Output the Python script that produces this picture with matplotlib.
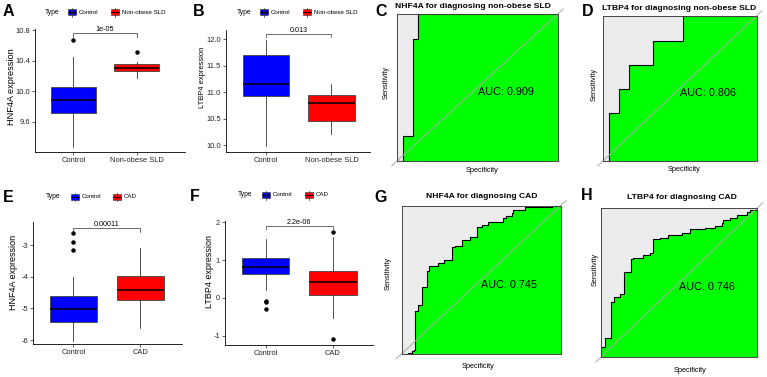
import matplotlib
matplotlib.use("Agg")
import matplotlib.pyplot as plt
from matplotlib import font_manager
from matplotlib.patches import Rectangle
from matplotlib.lines import Line2D

W, H = 767, 377

# --- box plot data ---
a_groups = ["Control", "Non-obese SLD"]
a_q1 = [9.71, 10.26]
a_med = [9.89, 10.30]
a_q3 = [10.05, 10.36]
a_lo = [9.27, 10.18]
a_hi = [10.45, 10.38]
a_out = [[10.67], [10.52]]
a_p = "1e-05"

b_groups = ["Control", "Non-obese SLD"]
b_q1 = [10.92, 10.46]
b_med = [11.16, 10.79]
b_q3 = [11.69, 10.94]
b_lo = [9.99, 10.20]
b_hi = [11.98, 11.15]
b_out = [[], []]
b_p = "0.013"

e_groups = ["Control", "CAD"]
e_q1 = [-5.43, -4.74]
e_med = [-5.03, -4.43]
e_q3 = [-4.60, -3.98]
e_lo = [-6.03, -5.62]
e_hi = [-4.00, -3.09]
e_out = [[-2.62, -2.88, -3.16], []]
e_p = "0.00011"

f_groups = ["Control", "CAD"]
f_q1 = [0.62, 0.07]
f_med = [0.81, 0.43]
f_q3 = [1.05, 0.70]
f_lo = [0.20, -0.52]
f_hi = [1.57, 1.60]
f_out = [[-0.07, -0.11, -0.29], [1.75, -1.10]]
f_p = "2.2e-06"

# --- ROC curves: 1 - specificity / sensitivity at each step ---
c_fpr = [0.0, 0.033, 0.100, 0.129, 1.0]
c_tpr = [0.0, 0.168, 0.827, 1.0, 1.0]
c_auc = "AUC: 0.909"

d_fpr = [0.0, 0.039, 0.104, 0.170, 0.326, 0.522, 1.0]
d_tpr = [0.0, 0.331, 0.497, 0.662, 0.828, 1.0, 1.0]
d_auc = "AUC: 0.806"

g_fpr = [0.0, 0.042, 0.063, 0.077, 0.084, 0.104, 0.126, 0.157, 0.174, 0.230,
         0.266, 0.314, 0.335, 0.377, 0.430, 0.475, 0.503, 0.545, 0.639, 0.656,
         0.692, 0.702, 0.775, 0.943, 1.0]
g_tpr = [0.0, 0.008, 0.018, 0.027, 0.286, 0.331, 0.449, 0.557, 0.595, 0.613,
         0.631, 0.719, 0.730, 0.770, 0.786, 0.855, 0.872, 0.888, 0.917, 0.932,
         0.951, 0.969, 0.991, 1.0, 1.0]
g_auc = "AUC: 0.745"

h_fpr = [0.0, 0.0, 0.022, 0.064, 0.081, 0.118, 0.146, 0.188, 0.203, 0.267,
         0.310, 0.331, 0.376, 0.429, 0.515, 0.569, 0.665, 0.729, 0.772, 0.782,
         0.825, 0.868, 0.932, 0.953, 0.996, 1.0]
h_tpr = [0.0, 0.067, 0.128, 0.366, 0.403, 0.420, 0.572, 0.655, 0.666, 0.684,
         0.695, 0.790, 0.796, 0.818, 0.830, 0.859, 0.868, 0.881, 0.897, 0.919,
         0.935, 0.953, 0.971, 0.987, 1.0, 1.0]
h_auc = "AUC: 0.746"

colors = ["#0000FF", "#FF0000"]

plt.rcParams["font.family"] = ["Liberation Sans", "DejaVu Sans"]

try:
    font_manager.findfont("Liberation Sans Narrow", fallback_to_default=False)
    auc_font = dict(family=["Liberation Sans Narrow", "DejaVu Sans"], fontsize=8.8)
except ValueError:
    auc_font = dict(fontsize=7.8)


def fx(x):
    return x / W


def fy(y):
    return 1 - y / H


def px_axes(fig, left, top, right, bottom):
    return fig.add_axes([fx(left), fy(bottom), (right - left) / W, (bottom - top) / H])


def legend(fig, x0, y, second, blue_x, red_x):
    fig.text(fx(x0), fy(y), "Type", fontsize=4.8, ha="left", va="center")
    for px, col, lab in [(blue_x, colors[0], "Control"), (red_x, colors[1], second)]:
        # whisker through the key, then the box and its median
        fig.lines.append(Line2D([fx(px + 4), fx(px + 4)], [fy(y + 4.5), fy(y - 4.5)],
                                transform=fig.transFigure, color="#333333", lw=0.5))
        fig.patches.append(Rectangle((fx(px), fy(y + 3)), 8 / W, 6 / H, transform=fig.transFigure,
                                     facecolor=col, edgecolor="#333333", lw=0.4))
        fig.lines.append(Line2D([fx(px), fx(px + 8)], [fy(y), fy(y)], transform=fig.transFigure,
                                color="black", lw=0.6))
        fig.text(fx(px + 11), fy(y), lab, fontsize=4.4, ha="left", va="center")


def box_panel(fig, box, xlim, ylim, yticks, fmt, groups, q1, med, q3, lo, hi, out,
              pval, br_y, br_d, ylabel, ylab_xy, ylab_size):
    ax = px_axes(fig, *box)
    stats = []
    for i in range(2):
        stats.append(dict(med=med[i], q1=q1[i], q3=q3[i], whislo=lo[i], whishi=hi[i],
                          fliers=out[i]))
    bp = ax.bxp(stats, positions=[1, 2], widths=0.71, patch_artist=True,
                showcaps=False,
                medianprops=dict(color="black", lw=1.1),
                whiskerprops=dict(color="#333333", lw=0.6),
                flierprops=dict(marker="o", markerfacecolor="black", markeredgecolor="black",
                                markersize=2.2))
    for patch, col in zip(bp["boxes"], colors):
        patch.set_facecolor(col)
        patch.set_edgecolor("#444444")
        patch.set_linewidth(0.6)
    ax.set_xlim(*xlim)
    ax.set_ylim(*ylim)
    ax.set_yticks(yticks)
    ax.set_yticklabels([fmt.format(v) for v in yticks])
    ax.set_xticks([1, 2])
    ax.set_xticklabels(groups)
    ax.tick_params(labelsize=5.4, length=2, width=0.5, pad=1.5, colors="#222222")
    for s in ["top", "right"]:
        ax.spines[s].set_visible(False)
    for s in ["left", "bottom"]:
        ax.spines[s].set_linewidth(0.6)
    ax.plot([1, 1, 2, 2], [br_y - br_d, br_y, br_y, br_y - br_d], color="#333333", lw=0.5,
            clip_on=False)
    ax.text(1.5, br_y, pval, fontsize=5.2, ha="center", va="bottom")
    fig.text(fx(ylab_xy[0]), fy(ylab_xy[1]), ylabel, rotation=90, ha="center", va="center",
             fontsize=ylab_size)
    return ax


def roc_panel(fig, box, fpr, tpr, title, title_xy, auc, sens_xy, spec_xy):
    ax = px_axes(fig, *box)
    ax.set_facecolor("#ECECEC")
    ax.fill_between(fpr, tpr, 0, step="post", color="#00FF00", lw=0)
    ax.step(fpr, tpr, where="post", color="black", lw=0.8)
    ax.plot([-0.035, 1.035], [-0.035, 1.035], color="#AAAAAA", lw=0.7, clip_on=False)
    ax.set_xlim(0, 1)
    ax.set_ylim(0, 1)
    ax.set_xticks([])
    ax.set_yticks([])
    for s in ax.spines.values():
        s.set_linewidth(0.7)
        s.set_color("#444444")
    ax.text(0.5, 0.5, auc, ha="left", va="top", **auc_font)
    fig.text(fx(title_xy[0]), fy(title_xy[1]), title, fontsize=6.1, fontweight="bold",
             ha="center", va="center")
    fig.text(fx(sens_xy[0]), fy(sens_xy[1]), "Sensitivity", fontsize=5.3, rotation=90,
             ha="center", va="center")
    fig.text(fx(spec_xy[0]), fy(spec_xy[1]), "Specificity", fontsize=5.3,
             ha="center", va="center")
    return ax


fig = plt.figure(figsize=(W / 100, H / 100), dpi=100)
fig.patch.set_facecolor("white")

box_panel(fig, (35, 29, 185, 152), (0.395, 2.763), (9.204, 10.817),
          [9.6, 10.0, 10.4, 10.8], "{:.1f}", a_groups, a_q1, a_med, a_q3, a_lo, a_hi, a_out,
          a_p, 10.76, 0.05, "HNF4A expression", (12, 87), 6.6)
box_panel(fig, (226, 30, 370, 152), (0.39, 2.59), (9.868, 12.17),
          [10.0, 10.5, 11.0, 11.5, 12.0], "{:.1f}", b_groups, b_q1, b_med, b_q3, b_lo, b_hi,
          b_out, b_p, 12.09, 0.05, "LTBP4 expression", (202, 77), 5.4)
box_panel(fig, (33, 222, 182, 344), (0.394, 2.624), (-6.126, -2.262),
          [-6, -5, -4, -3], "{:.0f}", e_groups, e_q1, e_med, e_q3, e_lo, e_hi, e_out,
          e_p, -2.46, 0.11, "HNF4A expression", (13.5, 272), 6.5)
box_panel(fig, (225, 221, 373, 345), (0.396, 2.6), (-1.246, 2.034),
          [-1, 0, 1, 2], "{:.0f}", f_groups, f_q1, f_med, f_q3, f_lo, f_hi, f_out,
          f_p, 1.90, 0.08, "LTBP4 expression", (210, 271), 6.5)

legend(fig, 45, 12, "Non-obese SLD", 68, 111)
legend(fig, 237, 12, "Non-obese SLD", 260, 303)
legend(fig, 46, 197, "CAD", 70.5, 113)
legend(fig, 238, 195, "CAD", 262, 304.5)

roc_panel(fig, (397.3, 14, 557.7, 160.7), c_fpr, c_tpr,
          "NHF4A for diagnosing non-obese SLD", (473, 7), c_auc, (386, 82), (481.7, 170.7))
roc_panel(fig, (603.3, 15.7, 756.7, 160.7), d_fpr, d_tpr,
          "LTBP4 for diagnosing non-obese SLD", (679, 8), d_auc, (594, 84), (684, 169.3))
roc_panel(fig, (401.7, 205.7, 560.7, 353.7), g_fpr, g_tpr,
          "NHF4A for diagnosing CAD", (481.7, 197), g_auc, (388, 273), (478.3, 366))
roc_panel(fig, (601.3, 208, 757.3, 356.7), h_fpr, h_tpr,
          "LTBP4 for diagnosing CAD", (681.7, 197.5), h_auc, (595, 269), (690, 370))

for lab, x, y in [("A", 8, 12), ("B", 198.5, 12), ("C", 381, 12), ("D", 587.5, 12),
                  ("E", 8.3, 197.5), ("F", 195, 196.5), ("G", 381, 197.5), ("H", 586.7, 196)]:
    fig.text(fx(x), fy(y), lab, fontsize=11.5, fontweight="bold", ha="center", va="center")

fig.savefig("out.png", dpi=100)
